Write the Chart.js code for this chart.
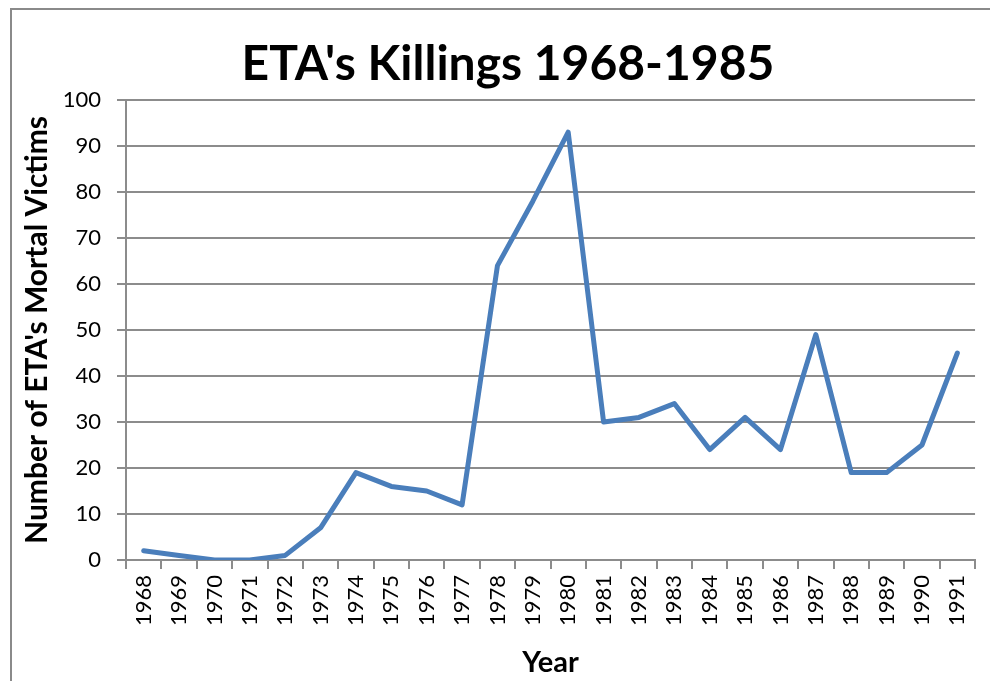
<!DOCTYPE html>
<html>
<head>
<meta charset="utf-8">
<script src="https://cdn.jsdelivr.net/npm/chart.js@4"></script>
<style>
  html, body { margin: 0; padding: 0; background: #ffffff; overflow: hidden; }
  #frame { position: absolute; left: 10px; top: 8px; width: 1000px; height: 700px;
           border-left: 2px solid #8a8a8a; border-top: 2px solid #8a8a8a; }
  #wrap { position: absolute; left: 0; top: 0; width: 990px; height: 681px; }
</style>
</head>
<body>
<div id="frame"></div>
<div id="wrap"><canvas id="c" width="990" height="681"></canvas></div>
<script>
const titleText = "ETA's Killings 1968-1985";
const yAxisTitle = "Number of ETA's Mortal Victims";
const xAxisTitle = "Year";
const years = ["1968","1969","1970","1971","1972","1973","1974","1975","1976","1977","1978","1979",
               "1980","1981","1982","1983","1984","1985","1986","1987","1988","1989","1990","1991"];
const victims = [2, 1, 0, 0, 1, 7, 19, 16, 15, 12, 64, 78, 93, 30, 31, 34, 24, 31, 24, 49, 19, 19, 25, 45];
const yTicks = [0, 10, 20, 30, 40, 50, 60, 70, 80, 90, 100];

const FONT = "Lato, 'Open Sans', sans-serif";
const GRID = "#8c8c8c";

const titlePlugin = {
  id: 'titleDraw',
  afterDraw(chart) {
    const ctx = chart.ctx;
    ctx.save();
    ctx.font = "bold 48px " + FONT;
    ctx.fillStyle = "#000000";
    ctx.textAlign = "center";
    ctx.textBaseline = "alphabetic";
    ctx.fillText(titleText, 508, 80);
    ctx.restore();
  }
};

new Chart(document.getElementById('c'), {
  type: 'line',
  data: {
    labels: years,
    datasets: [{
      data: victims,
      borderColor: '#4a7ebb',
      borderWidth: 5,
      pointRadius: 0,
      pointHoverRadius: 0,
      tension: 0,
      fill: false,
      borderCapStyle: 'round',
      borderJoinStyle: 'round'
    }]
  },
  options: {
    responsive: false,
    animation: false,
    events: [],
    layout: { padding: { left: 0, right: 12, top: 100, bottom: 0 } },
    plugins: {
      legend: { display: false },
      title: { display: false },
      tooltip: { enabled: false }
    },
    scales: {
      x: {
        type: 'category',
        offset: true,
        grid: {
          display: true,
          drawOnChartArea: false,
          drawTicks: true,
          tickLength: 9,
          color: GRID,
          lineWidth: 2,
          offset: true
        },
        border: { display: true, color: GRID, width: 2 },
        ticks: {
          color: '#000000',
          font: { family: FONT, size: 22 },
          minRotation: 90,
          maxRotation: 90,
          autoSkip: false,
          padding: 6
        },
        title: {
          display: true,
          text: xAxisTitle,
          color: '#000000',
          font: { family: FONT, size: 29, weight: 'bold' },
          padding: { top: 0, bottom: 1 }
        },
        afterFit(scale) { scale.height = 681 - 560; }
      },
      y: {
        min: 0,
        max: 100,
        afterBuildTicks(scale) { scale.ticks = yTicks.map(v => ({ value: v })); },
        grid: {
          display: true,
          drawTicks: true,
          tickLength: 9,
          color: GRID,
          lineWidth: 2
        },
        border: { display: true, color: GRID, width: 2 },
        ticks: {
          color: '#000000',
          font: { family: FONT, size: 22 },
          padding: 16
        },
        title: {
          display: true,
          text: yAxisTitle,
          color: '#000000',
          font: { family: FONT, size: 30, weight: 'bold' },
          padding: { top: 19, bottom: 0 }
        },
        afterFit(scale) { scale.width = 126; }
      }
    }
  },
  plugins: [titlePlugin]
});
</script>
</body>
</html>
